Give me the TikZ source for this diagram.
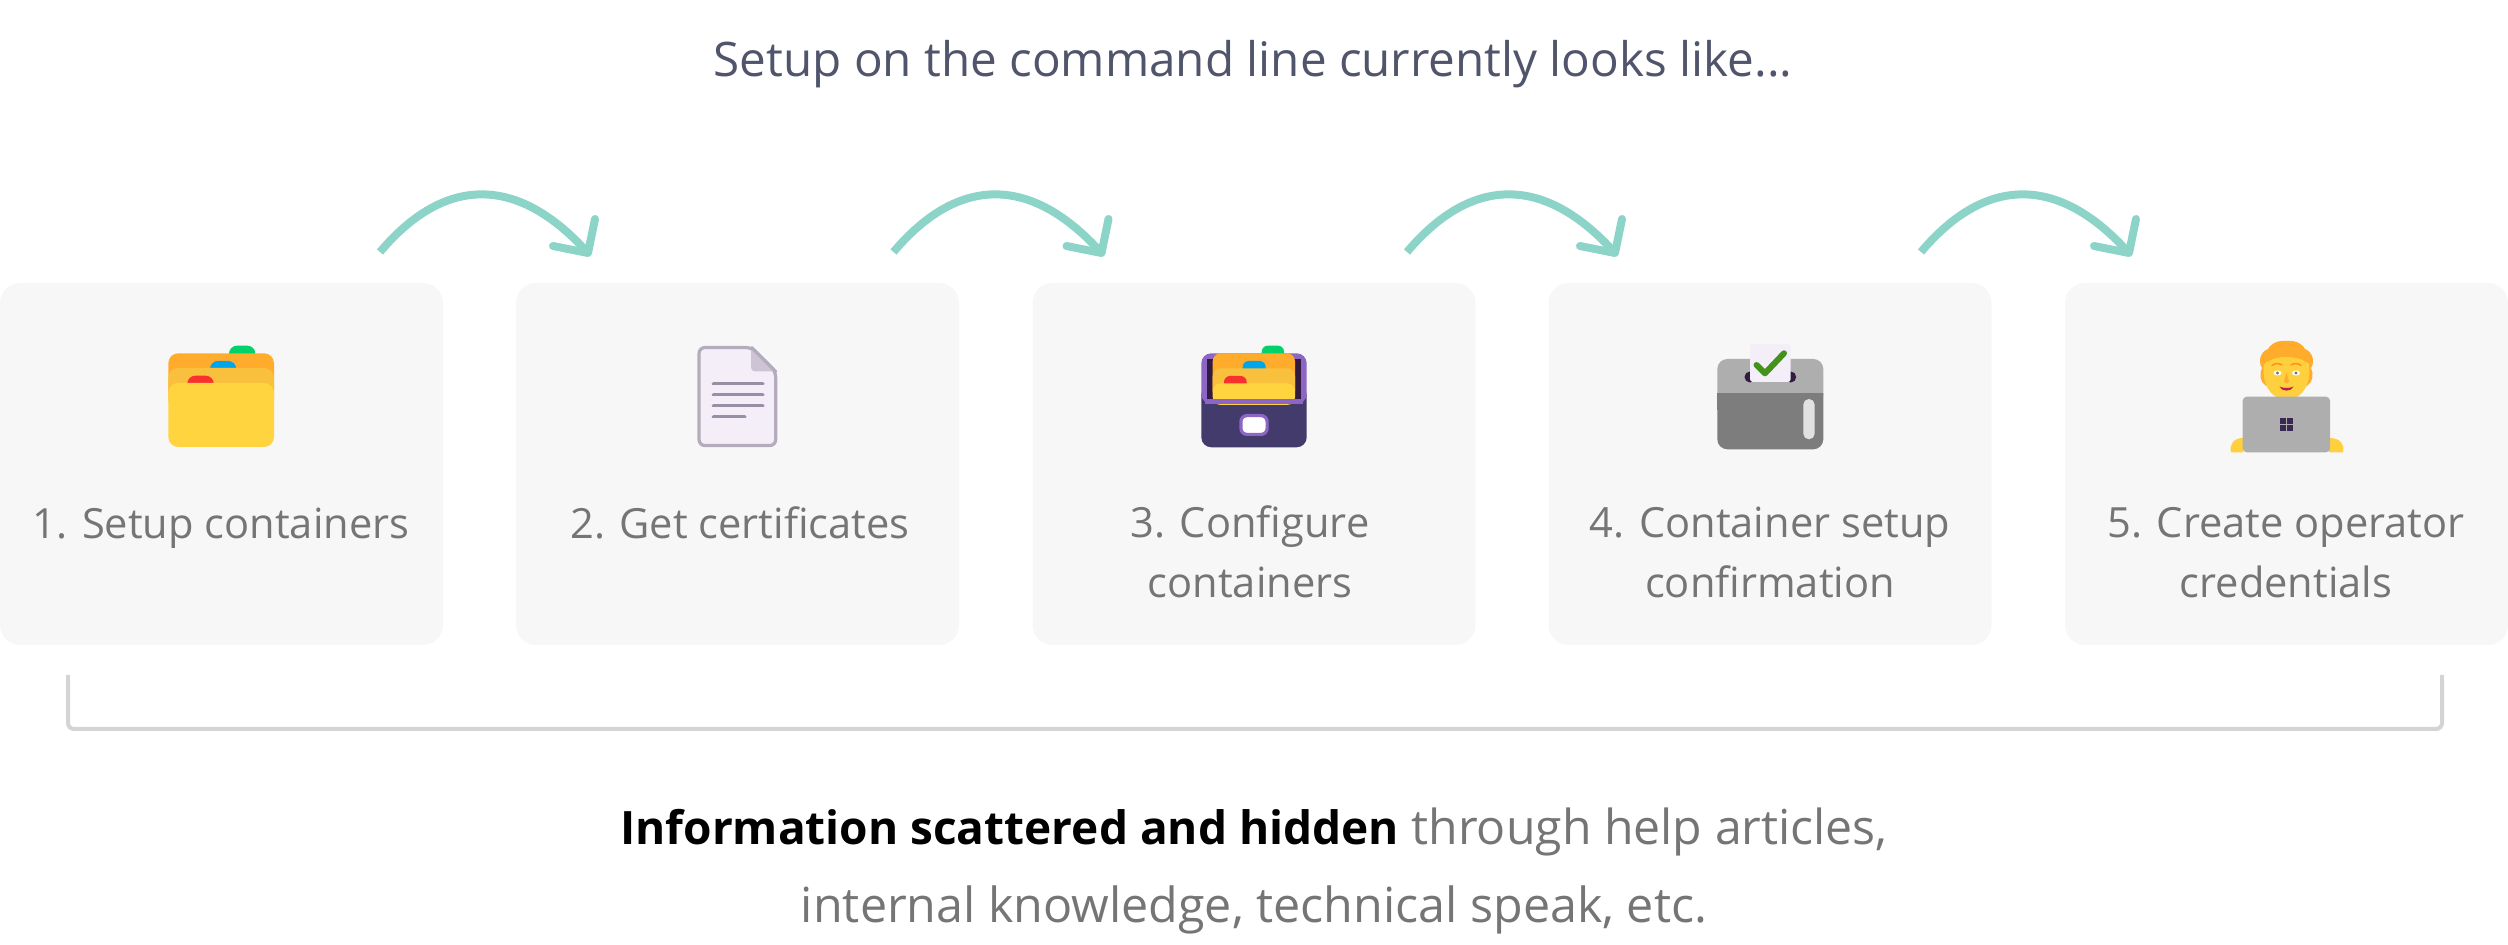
\documentclass[tikz,border=0pt]{standalone}
\usepackage{fontspec}
\setmainfont{Open Sans}
\definecolor{cardbg}{HTML}{F7F7F7}
\definecolor{labelgray}{HTML}{757575}
\definecolor{titlecol}{HTML}{50556B}
\definecolor{arrowcol}{HTML}{8DD4C8}
\definecolor{bracketcol}{HTML}{D4D4D4}
\definecolor{fback}{HTML}{FFAC2D}
\definecolor{fmid}{HTML}{F9C03E}
\definecolor{ffront}{HTML}{FFD43F}
\definecolor{tgreen}{HTML}{00D26A}
\definecolor{tblue}{HTML}{00A6ED}
\definecolor{tred}{HTML}{F8312F}
\definecolor{paper}{HTML}{F3EEF8}
\definecolor{docedge}{HTML}{B4ACBC}
\definecolor{docfold}{HTML}{CDC4D6}
\definecolor{docline}{HTML}{998EA4}
\definecolor{bpurple}{HTML}{8D65C5}
\definecolor{bdark}{HTML}{433B6B}
\definecolor{binner}{HTML}{321B41}
\definecolor{glight}{HTML}{AEAEAE}
\definecolor{gdark}{HTML}{7D7D7D}
\definecolor{gslide}{HTML}{E1E1E1}
\definecolor{checkcol}{HTML}{44911B}
\definecolor{skin}{HTML}{FFD03D}
\definecolor{hair}{HTML}{FFAB2B}
\definecolor{mouthcol}{HTML}{BB1D50}
\tikzset{
  x=0.5pt,y=-0.5pt,
  cardbox/.style={fill=cardbg,rounded corners=10pt,minimum width=221.5pt,minimum height=181pt,inner sep=0pt,draw=none},
  lab/.style={font=\fontsize{20.8pt}{24pt}\selectfont,text=labelgray,anchor=base,inner sep=0pt},
  arrowline/.style={draw=arrowcol,line width=4pt},
  arrowtip/.style={draw=arrowcol,line width=4pt,line cap=round,line join=round},
  bracketline/.style={draw=bracketcol,line width=2pt,rounded corners=3pt},
}
\begin{document}
\begin{tikzpicture}
\useasboundingbox (0,0) rectangle (2508,945);
\node[font=\fontsize{23.8pt}{30pt}\selectfont,text=titlecol,anchor=base,inner sep=0pt] (title) at (1253,77) {Setup on the command line currently looks like...};
% cards
\node[cardbox] (c1) at (221.5,464) {};
\node[cardbox] (c2) at (737.5,464) {};
\node[cardbox] (c3) at (1254,464) {};
\node[cardbox] (c4) at (1770,464) {};
\node[cardbox] (c5) at (2286.5,464) {};
% labels
\node[lab] (l1) at (221,539) {1. Setup containers};
\node[lab] (l2) at (740,539) {2. Get certificates};
\node[lab] (l3a) at (1250,538) {3. Configure};
\node[lab] (l3b) at (1250,598) {containers};
\node[lab] (l4a) at (1770,538) {4. Container setup};
\node[lab] (l4b) at (1770,598) {confirmation};
\node[lab] (l5a) at (2286,538) {5. Create operator};
\node[lab] (l5b) at (2286,598) {credentials};
% arrows
\foreach \i/\dx in {1/0,2/513.5,3/1027,4/1541}{
  \coordinate (s\i) at ({380+\dx},252);
  \coordinate (e\i) at ({588+\dx},253);
  \coordinate (ha\i) at ({553+\dx},246);
  \coordinate (hb\i) at ({595+\dx},219);
  \draw[arrowline] (s\i) .. controls ({445+\dx},175) and ({518+\dx},175) .. (e\i);
  \draw[arrowtip] (ha\i) -- (e\i) -- (hb\i);
}
% bracket
\coordinate (bl) at (68,675);
\coordinate (bbl) at (68,729);
\coordinate (bbr) at (2442,729);
\coordinate (br) at (2442,675);
\draw[bracketline] (bl) -- (bbl) -- (bbr) -- (br);
% bottom text
\node[font=\fontsize{24.1pt}{30pt}\selectfont,text=labelgray,anchor=base,inner sep=0pt] (b1) at (1254,845) {\textcolor{black}{\fontsize{23pt}{30pt}\selectfont\bfseries Information scattered and hidden} through help articles,};
\node[font=\fontsize{24.2pt}{30pt}\selectfont,text=labelgray,anchor=base,inner sep=0pt] (b2) at (1254,923) {internal knowledge, technical speak, etc.};
% icon 1 folder
\fill[tgreen,rounded corners=4pt] (229,345.7) rectangle (255.3,365);
\fill[fback,rounded corners=5pt] (168.3,353.3) rectangle (274,400);
\fill[tblue,rounded corners=4pt] (210,361) rectangle (236.3,380);
\fill[fmid,rounded corners=5pt] (168.3,368) rectangle (274,410);
\fill[tred,rounded corners=4pt] (187.3,375.7) rectangle (213.7,395);
\fill[ffront,rounded corners=5pt] (168.3,383) rectangle (274,447);
% icon 2 document
\filldraw[fill=paper,draw=docedge,line width=1.6pt,line join=round,rounded corners=3pt] (699,347.5) -- (751.7,347.5) -- (775.7,371.5) -- (775.7,445.6) -- (699,445.6) -- cycle;
\filldraw[fill=docfold,draw=none,rounded corners=2pt] (751,348) -- (751,371.5) -- (775,371.5) -- cycle;
\draw[draw=docedge,line width=1.6pt,line cap=round] (751.7,347.5) -- (775.7,371.5);
\foreach \yy/\xe in {383.7/762.7,394.7/762.7,405.7/762.7,416.7/744.7}{
  \draw[docline,line width=1.8pt,line cap=round] (713.5,\yy) -- (\xe,\yy);
}
% icon 3 drawer
\fill[bdark,rounded corners=5pt] (1201.3,385) rectangle (1306.7,447.3);
\fill[bpurple,rounded corners=5pt] (1201.3,353.3) rectangle (1306.7,404);
\fill[binner] (1206.7,359.3) rectangle (1300.7,398.7);
\fill[tgreen,rounded corners=3pt] (1261.7,345.7) rectangle (1284,362);
\fill[fback,rounded corners=4pt] (1212.7,353.3) rectangle (1295,398.7);
\fill[tblue,rounded corners=3pt] (1242.7,361) rectangle (1265.7,378);
\fill[fmid,rounded corners=4pt] (1212.7,368.3) rectangle (1295,398.7);
\fill[tred,rounded corners=3pt] (1224,376) rectangle (1246.7,392);
\fill[ffront,rounded corners=4pt] (1212.7,383.3) rectangle (1295,405);
\fill[bpurple] (1205,398.7) rectangle (1303,404);
\filldraw[fill=white,draw=bpurple,line width=1.6pt,rounded corners=3pt] (1240.9,415.6) rectangle (1267.1,434.4);
% icon 4 ballot box
\fill[glight,rounded corners=5pt] (1717.3,359) rectangle (1823.3,405);
\fill[gdark,rounded corners=5pt] (1717.3,393.3) -- (1717.3,449.3) -- (1823.3,449.3) -- (1823.3,393.3);
\fill[gdark] (1717.3,393.3) rectangle (1823.3,410);
\fill[binner] (1750,377) circle[radius=5.5];
\fill[binner] (1790.7,377) circle[radius=5.5];
\fill[paper,rounded corners=1.5pt] (1750,344) rectangle (1790.7,382);
\draw[checkcol,line width=3pt,line cap=round,line join=round] (1756.5,365) -- (1765,373.3) -- (1784,353.3);
\fill[gslide,rounded corners=2.8pt] (1803.3,399) rectangle (1814.7,439.3);
% icon 5 person
\fill[skin] (2231,452.3) .. controls (2229,444) and (2234,438) .. (2243,438) -- (2243,452.3) -- cycle;
\fill[skin] (2343,452.3) .. controls (2345,444) and (2340,438) .. (2329,438) -- (2329,452.3) -- cycle;
\fill[hair] (2286.7,341) .. controls (2276,340) and (2270,345) .. (2268,349) .. controls (2260,352) and (2258,362) .. (2262,368) .. controls (2259,374) and (2260,382) .. (2266,386) -- (2307,386) .. controls (2313,382) and (2314,374) .. (2311,368) .. controls (2315,362) and (2313,352) .. (2305,349) .. controls (2303,345) and (2297,340) .. (2286.7,341) -- cycle;
\fill[skin] (2264,364) .. controls (2272,358) and (2280,357) .. (2286.7,357) .. controls (2293,357) and (2301,358) .. (2309,364) .. controls (2311,380) and (2306,398) .. (2286.7,400) .. controls (2267,398) and (2262,380) .. (2264,364) -- cycle;
\draw[hair!85!red,line width=0.8pt,line cap=round] (2272,365.5) .. controls (2275,363) and (2279,363) .. (2282,365);
\draw[hair!85!red,line width=0.8pt,line cap=round] (2291,365) .. controls (2294,363) and (2298,363) .. (2301,365.5);
\fill[white] (2277.5,373) ellipse[x radius=4,y radius=2.5];
\fill[white] (2296,373) ellipse[x radius=4,y radius=2.5];
\fill[black!55] (2277.5,373) circle[radius=1.7];
\fill[black!55] (2296,373) circle[radius=1.7];
\fill[hair] (2286.5,373) -- (2284,381) .. controls (2285,384) and (2288,384) .. (2289,381) -- cycle;
\fill[mouthcol] (2279.5,386.5) .. controls (2283,388.5) and (2290,388.5) .. (2293.5,386.5) .. controls (2292,392) and (2281,392) .. (2279.5,386.5) -- cycle;
\fill[glight,rounded corners=2pt] (2242.7,396.7) rectangle (2330,452.3);
\foreach \wx/\wy in {2280/418.3,2287/418.3,2280/425.3,2287/425.3}{
  \fill[binner!60!bdark] (\wx,\wy) rectangle ++(5.7,5.7);
}
\end{tikzpicture}
\end{document}
